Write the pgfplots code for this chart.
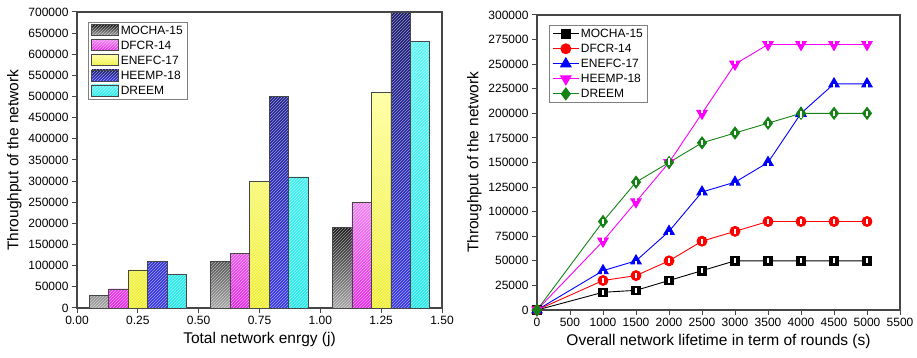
\documentclass[border=0pt]{standalone}
\usepackage{fontspec}
\setmainfont{Liberation Sans}
\usepackage{pgfplots}
\pgfplotsset{compat=1.18}
\usetikzlibrary{patterns}
\definecolor{axgray}{RGB}{70,70,70}
\definecolor{mochaT}{RGB}{25,25,25}
\definecolor{mochaB}{RGB}{165,165,165}
\definecolor{dfcrT}{RGB}{240,130,240}
\definecolor{dfcrB}{RGB}{228,40,228}
\definecolor{enefcT}{RGB}{255,255,150}
\definecolor{enefcB}{RGB}{238,238,40}
\definecolor{heempT}{RGB}{25,25,110}
\definecolor{heempB}{RGB}{55,55,230}
\definecolor{dreemT}{RGB}{90,245,245}
\definecolor{dreemB}{RGB}{35,232,232}
\definecolor{lgreen}{RGB}{20,130,20}
\definecolor{pmag}{RGB}{255,0,255}
\definecolor{pblue}{RGB}{0,0,255}
\definecolor{pred}{RGB}{255,0,0}
\newcommand{\legfont}{\fontsize{12}{13}\selectfont}
\begin{document}
\begin{tikzpicture}[x=1pt,y=1pt]
\useasboundingbox (0,0) rectangle (917,358);
\pgfplotsset{
  common/.style={
    scale only axis,
    axis line style={axgray, line width=1.2pt},
    tick style={axgray, line width=1pt},
    tick align=outside, xtick pos=bottom, ytick pos=left,
    major tick length=5pt,
    tick label style={font=\fontsize{12}{14}\selectfont},
    label style={font=\fontsize{15.5}{17}\selectfont},
    /pgf/number format/assume math mode=true,
    scaled ticks=false,
    legend style={font=\legfont, nodes={font=\legfont, inner sep=1.6pt}, draw=gray, line width=0.8pt, row sep=2pt},
    legend cell align=left,
  },
  barst/.style={ybar, bar width=0.08, bar shift=0pt, draw=axgray, line width=0.8pt,
    postaction={pattern=north east lines, pattern color=white, fill opacity=0.45}},
}
\begin{axis}[common, at={(77pt,50pt)}, anchor=south west, width=365pt, height=296pt,
  xmin=0, xmax=1.5, ymin=0, ymax=700000,
  xtick={0,0.25,0.5,0.75,1,1.25,1.5},
  ytick={0,50000,100000,150000,200000,250000,300000,350000,400000,450000,500000,550000,600000,650000,700000},
  x tick label style={/pgf/number format/.cd, fixed, fixed zerofill, precision=2},
  y tick label style={/pgf/number format/.cd, fixed, 1000 sep={}},
  xlabel={Total network enrgy (j)}, ylabel={Throughput of the network},
  legend style={at={(0.03,0.967)}, anchor=north west},
  legend image code/.code={\draw[#1] (0pt,-5pt) rectangle (27pt,6pt);},
]
\addplot[barst, top color=mochaT, bottom color=mochaB] coordinates {(0.09,30000) (0.59,110000) (1.09,190000)};
\addplot[barst, top color=dfcrT, bottom color=dfcrB] coordinates {(0.17,45000) (0.67,130000) (1.17,250000)};
\addplot[barst, top color=enefcT, bottom color=enefcB] coordinates {(0.25,90000) (0.75,300000) (1.25,510000)};
\addplot[barst, top color=heempT, bottom color=heempB] coordinates {(0.33,110000) (0.83,500000) (1.33,700000)};
\addplot[barst, top color=dreemT, bottom color=dreemB] coordinates {(0.41,80000) (0.91,310000) (1.41,630000)};
\legend{MOCHA-15,DFCR-14,ENEFC-17,HEEMP-18,DREEM}
\end{axis}

\begin{axis}[common, at={(537pt,48pt)}, anchor=south west, width=363pt, height=295pt,
  xmin=0, xmax=5500, ymin=0, ymax=300000,
  xtick={0,500,1000,1500,2000,2500,3000,3500,4000,4500,5000,5500},
  ytick={0,25000,50000,75000,100000,125000,150000,175000,200000,225000,250000,275000,300000},
  x tick label style={/pgf/number format/.cd, fixed, 1000 sep={}},
  y tick label style={/pgf/number format/.cd, fixed, 1000 sep={}},
  xlabel={Overall network lifetime in term of rounds (s)}, ylabel={Throughput of the network},
  legend style={at={(0.033,0.967)}, anchor=north west},
  legend image code/.code={\draw[mark repeat=2, mark phase=2, #1] plot coordinates {(0pt,0pt) (13pt,0pt) (26pt,0pt)};},
  stripe/.style={forget plot, draw=none, mark=|, mark size=2.4pt, mark options={white, line width=1.1pt}},
]
\addplot[black, line width=0.9pt, mark=square*, mark size=4.3pt, mark options={fill=black}] coordinates {(0,0) (1000,18000) (1500,20000) (2000,30000) (2500,40000) (3000,50000) (3500,50000) (4000,50000) (4500,50000) (5000,50000)};
\addplot[pred, line width=0.9pt, mark=*, mark size=5pt, mark options={fill=pred}] coordinates {(0,0) (1000,30000) (1500,35000) (2000,50000) (2500,70000) (3000,80000) (3500,90000) (4000,90000) (4500,90000) (5000,90000)};
\addplot[pblue, line width=0.9pt, mark=triangle*, mark size=6pt, mark options={fill=pblue}] coordinates {(0,0) (1000,40000) (1500,50000) (2000,80000) (2500,120000) (3000,130000) (3500,150000) (4000,200000) (4500,230000) (5000,230000)};
\addplot[pmag, line width=0.9pt, mark=triangle*, mark size=6pt, mark options={fill=pmag, rotate=180}] coordinates {(0,0) (1000,70000) (1500,110000) (2000,150000) (2500,200000) (3000,250000) (3500,270000) (4000,270000) (4500,270000) (5000,270000)};
\addplot[lgreen, line width=0.9pt, mark=diamond*, mark size=6pt, mark options={fill=lgreen}] coordinates {(0,0) (1000,90000) (1500,130000) (2000,150000) (2500,170000) (3000,180000) (3500,190000) (4000,200000) (4500,200000) (5000,200000)};
\legend{MOCHA-15,DFCR-14,ENEFC-17,HEEMP-18,DREEM}
\addplot[stripe] coordinates {(1000,18000) (1500,20000) (2000,30000) (2500,40000) (3000,50000) (3500,50000) (4000,50000) (4500,50000) (5000,50000)};
\addplot[stripe] coordinates {(1000,30000) (1500,35000) (2000,50000) (2500,70000) (3000,80000) (3500,90000) (4000,90000) (4500,90000) (5000,90000)};
\addplot[stripe, mark size=2pt] coordinates {(1000,37500) (1500,47500) (2000,77500) (2500,117500) (3000,127500) (3500,147500) (4000,197500) (4500,227500) (5000,227500)};
\addplot[stripe, mark size=2pt] coordinates {(1000,72500) (1500,112500) (2000,152500) (2500,202500) (3000,252500) (3500,272500) (4000,272500) (4500,272500) (5000,272500)};
\addplot[stripe] coordinates {(1000,90000) (1500,130000) (2000,150000) (2500,170000) (3000,180000) (3500,190000) (4000,200000) (4500,200000) (5000,200000)};
\end{axis}
\end{tikzpicture}
\end{document}
